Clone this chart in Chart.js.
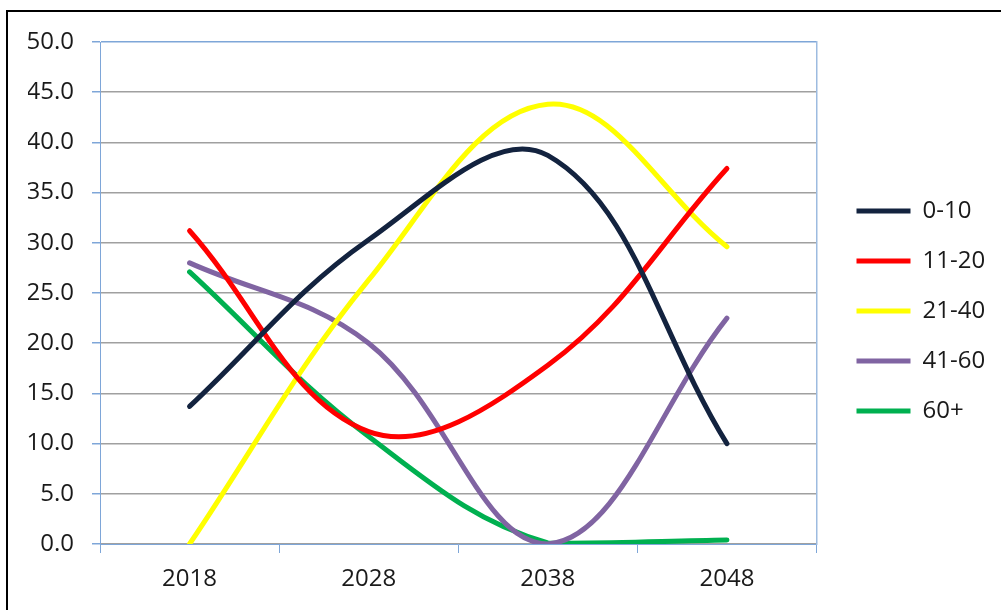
<!DOCTYPE html>
<html>
<head>
<meta charset="utf-8">
<script src="https://cdn.jsdelivr.net/npm/chart.js@4/dist/chart.umd.min.js"></script>
<style>
    html, body { margin: 0; padding: 0; background: #fff; }
    body { width: 1001px; height: 610px; overflow: hidden; position: relative; }
    #frame {
        position: absolute; left: 6px; top: 10px;
        width: 995px; height: 600px;
        border-left: 2px solid #000; border-top: 2px solid #000;
    }
    #chart { display: block; }
</style>
</head>
<body>
<div id="frame"><canvas id="chart" width="993" height="598"></canvas></div>
<script>
// Categories and series
const years = ['2018', '2028', '2038', '2048'];
const age0to10 = [13.7, 30.3, 38.7, 10.0];
const age11to20 = [31.2, 11.2, 17.8, 37.4];
const age21to40 = [0.0, 26.3, 43.8, 29.6];
const age41to60 = [28.0, 20.0, 0.0, 22.5];
const age60plus = [27.1, 10.7, 0.1, 0.4];

const seriesNames = ['0-10', '11-20', '21-40', '41-60', '60+'];
const seriesColors = ['#13233F', '#FF0000', '#FFFF00', '#8064A2', '#00B050'];

const axisBlue = '#7EA6D8';
const gridGray = '#A0A0A0';
const textColor = '#1A1A1A';
const fontFamily = '"Open Sans", "Liberation Sans", sans-serif';

const makeDataset = (label, data, color) => ({
    label: label,
    data: data,
    borderColor: color,
    backgroundColor: color,
    borderWidth: 5,
    borderCapStyle: 'round',
    borderJoinStyle: 'round',
    pointRadius: 0,
    pointHoverRadius: 0,
    tension: 0.38,
    fill: false
});

const allSeries = [age0to10, age11to20, age21to40, age41to60, age60plus];
const datasets = allSeries.map((data, i) => makeDataset(seriesNames[i], data, seriesColors[i]));

new Chart(document.getElementById('chart'), {
    type: 'line',
    data: { labels: years, datasets: datasets },
    options: {
        responsive: false,
        animation: false,
        layout: { padding: { left: 20, top: 20, right: 10, bottom: 20 } },
        scales: {
            x: {
                offset: true,
                afterFit: (scale) => { scale.height = 46; },
                grid: {
                    offset: true,
                    drawOnChartArea: false,
                    drawTicks: true,
                    tickLength: 9,
                    tickColor: axisBlue
                },
                border: { color: axisBlue, width: 1 },
                ticks: {
                    color: textColor,
                    padding: 12,
                    font: { family: fontFamily, size: 24 }
                }
            },
            y: {
                min: 0,
                max: 50,
                afterFit: (scale) => {
                    scale.width = 72;
                    scale.paddingTop = 30;
                },
                grid: {
                    color: (ctx) => (ctx.tick && ctx.tick.value === 50 ? axisBlue : gridGray),
                    lineWidth: 1.5,
                    tickLength: 8,
                    tickColor: axisBlue
                },
                border: { color: axisBlue, width: 1 },
                ticks: {
                    stepSize: 5,
                    color: textColor,
                    padding: 18,
                    font: { family: fontFamily, size: 24 },
                    callback: (value) => value.toFixed(1)
                }
            },
            yRight: {
                position: 'right',
                min: 0,
                max: 50,
                afterFit: (scale) => { scale.width = 14; },
                grid: { drawOnChartArea: false, drawTicks: false },
                border: { color: '#9DBBE0', width: 1.5 },
                ticks: { display: false }
            }
        },
        plugins: {
            tooltip: { enabled: false },
            legend: {
                position: 'right',
                labels: {
                    usePointStyle: true,
                    pointStyle: 'line',
                    pointStyleWidth: 54,
                    padding: 26,
                    color: textColor,
                    font: { family: fontFamily, size: 24 }
                }
            }
        }
    }
});
</script>
</body>
</html>
